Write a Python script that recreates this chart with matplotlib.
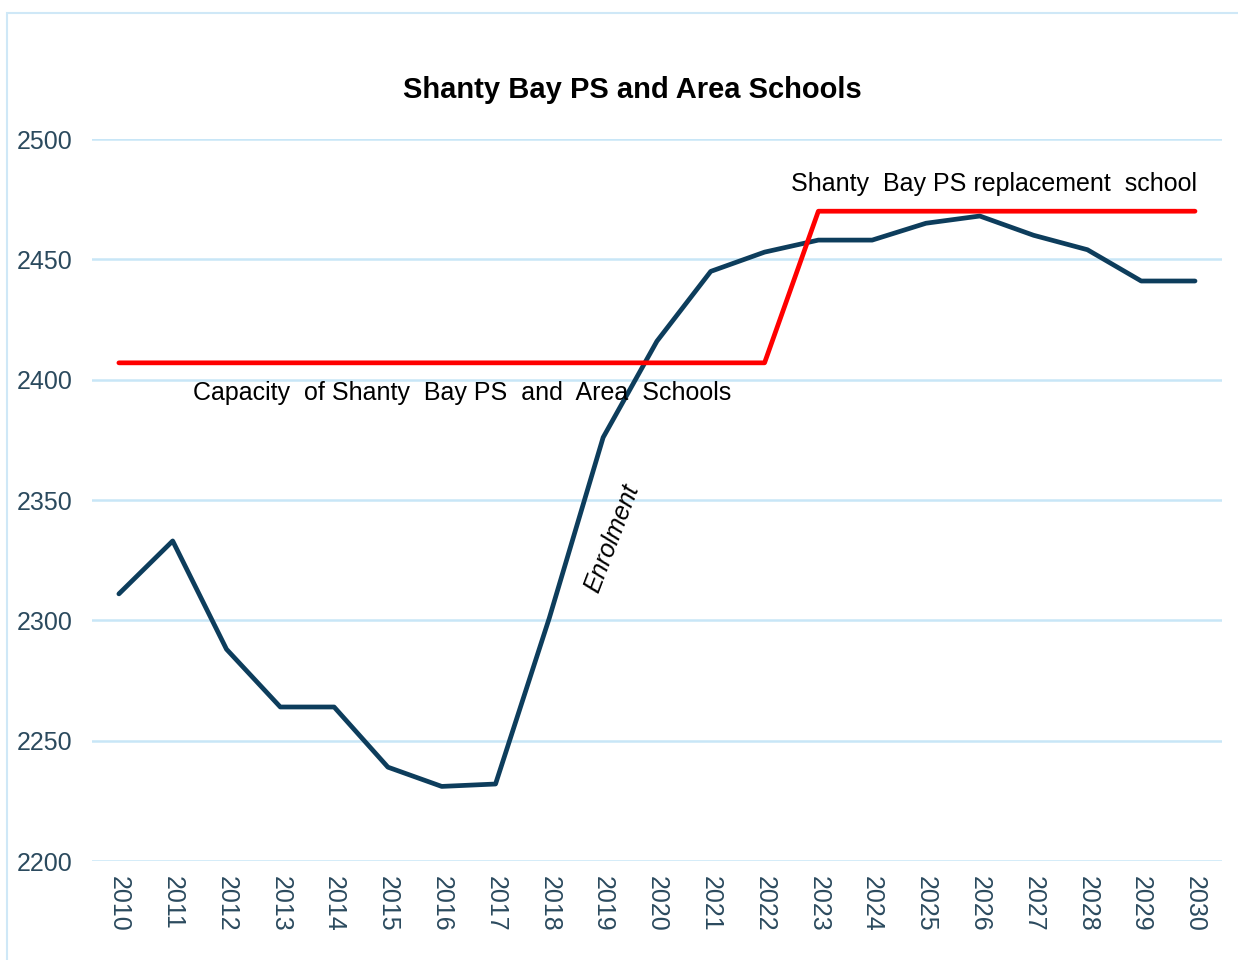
import matplotlib.pyplot as plt
from matplotlib.patches import Rectangle

plt.rcParams['font.family'] = ['Liberation Sans', 'DejaVu Sans']

years = [str(y) for y in range(2010, 2031)]
enrolment = [2311, 2333, 2288, 2264, 2264, 2239, 2231, 2232, 2301, 2376, 2416,
             2445, 2453, 2458, 2458, 2465, 2468, 2460, 2454, 2441, 2441]
capacity = [2407] * 13 + [2470] * 8

fig = plt.figure(figsize=(12.38, 9.6), dpi=100)
ax = fig.add_axes([0.0743, 0.1031, 0.9127, 0.7521])

# light blue frame around the chart area
fig.patches.append(Rectangle((7 / 1238, -0.01), 1.2, 1 - 13 / 960 + 0.01,
                             transform=fig.transFigure, fill=False,
                             edgecolor='#cfe8f7', linewidth=1.5))

x = range(len(years))
ax.plot(x, enrolment, color='#0d3d5c', lw=3.4, solid_capstyle='round')
ax.plot(x, capacity, color='#ff0000', lw=3.4, solid_capstyle='round')

ax.set_xlim(-0.5, len(years) - 0.5)
ax.set_ylim(2200, 2500)
ax.set_yticks([2200, 2250, 2300, 2350, 2400, 2450, 2500])
ax.set_xticks(list(x))
ax.set_xticklabels(years, rotation=270, va='top', ha='center')
ax.grid(axis='y', color='#c8e6f7', lw=1.8)
ax.set_axisbelow(True)
for s in ax.spines.values():
    s.set_visible(False)
ax.tick_params(length=0, labelsize=18, labelcolor='#2b4a5e')
ax.tick_params(axis='y', pad=14)
ax.tick_params(axis='x', pad=11)

fig.text(0.511, 0.906, 'Shanty Bay PS and Area Schools', ha='center', va='center',
         fontsize=21, fontweight='bold')
ax.text(1.38, 2394.5, 'Capacity  of Shanty  Bay PS  and  Area  Schools', ha='left',
        va='center', fontsize=18)
ax.text(12.5, 2481.5, 'Shanty  Bay PS replacement  school', ha='left',
        va='center', fontsize=18)
ax.text(9.17, 2334, 'Enrolment', ha='center', va='center', fontsize=18,
        style='italic', rotation=69)

fig.savefig('out.png', dpi=100)
